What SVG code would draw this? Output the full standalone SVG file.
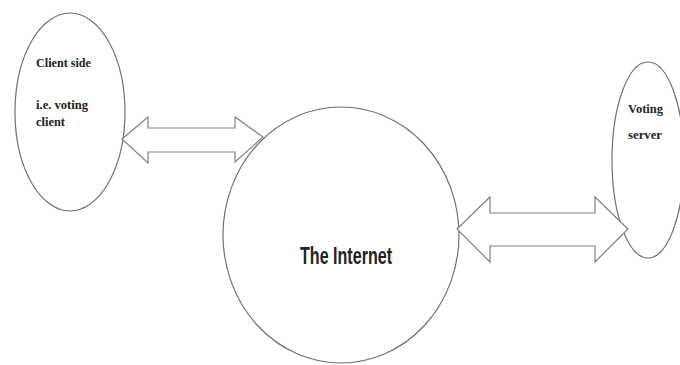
<svg xmlns="http://www.w3.org/2000/svg" width="680" height="365" viewBox="0 0 680 365">
<style>
.shape{fill:none;stroke:#707070;stroke-width:1.2}
.arrow{fill:#fff;stroke:#808080;stroke-width:1.2;stroke-linejoin:miter}
.lbl{font-family:"Liberation Serif","Times New Roman",serif;font-weight:bold;font-size:13px;fill:#222}
.big{font-family:"Liberation Sans",Arial,sans-serif;font-weight:bold;font-size:24px;fill:#222}
</style>
<rect width="680" height="365" fill="#fff"/>
<g id="client">
<ellipse class="shape" cx="70" cy="112" rx="55" ry="99"/>
<text class="lbl" x="36" y="67" textLength="55" lengthAdjust="spacingAndGlyphs">Client side</text>
<text class="lbl" x="36" y="109" textLength="52" lengthAdjust="spacingAndGlyphs">i.e. voting</text>
<text class="lbl" x="36" y="126" textLength="29" lengthAdjust="spacingAndGlyphs">client</text>
</g>
<g id="server">
<ellipse class="shape" cx="648" cy="160" rx="36" ry="98"/>
<text class="lbl" x="628" y="113" textLength="35" lengthAdjust="spacingAndGlyphs">Voting</text>
<text class="lbl" x="628" y="139" textLength="34" lengthAdjust="spacingAndGlyphs">server</text>
</g>
<g id="internet">
<ellipse class="shape" cx="341" cy="235" rx="118" ry="128"/>
<text class="big" x="300" y="264" textLength="92" lengthAdjust="spacingAndGlyphs">The Internet</text>
</g>
<g id="connectors">
<polygon class="arrow" points="122,139 148,117 148,128 235,128 235,117 263,137 235,162 235,152 148,152 148,163"/>
<polygon class="arrow" points="457,229 490,197 490,213 595,213 595,197 628,229 595,262 595,246 490,246 490,262"/>
</g>
</svg>
